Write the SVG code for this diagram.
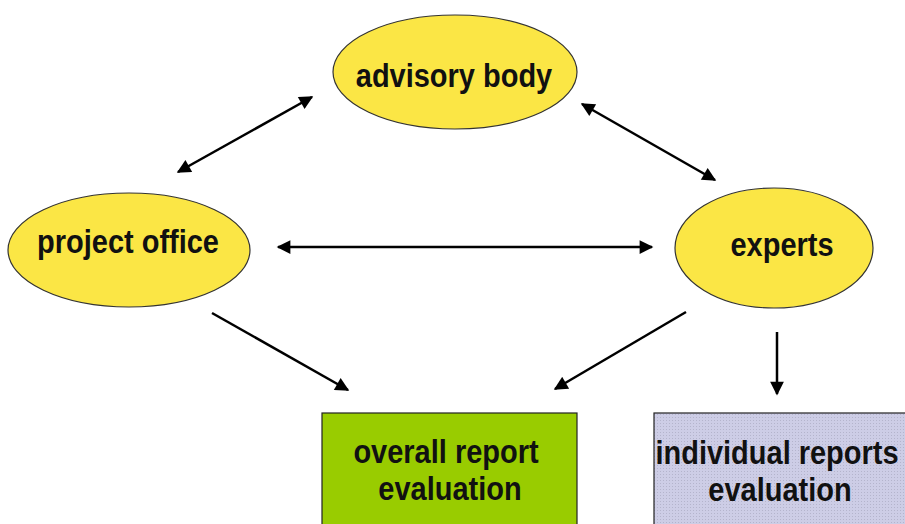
<svg xmlns="http://www.w3.org/2000/svg" width="905" height="524" viewBox="0 0 905 524">
<style>
.node ellipse{fill:#FBE645;stroke:#333;stroke-width:1.2}
.lbl{font-family:"Liberation Sans",Arial,sans-serif;font-weight:bold;font-size:29px;fill:#111;text-anchor:middle}
.conn line{stroke:#000;stroke-width:2.5}
</style>
<defs>
<marker id="ah" viewBox="0 0 10 10" refX="9" refY="5" markerWidth="6.5" markerHeight="5.5" orient="auto-start-reverse" markerUnits="strokeWidth">
<path d="M0,0 L10,5 L0,10 z" fill="#000"/>
</marker>
<pattern id="dots" width="3" height="3" patternUnits="userSpaceOnUse">
<rect width="3" height="3" fill="#CDCDE6"/>
<rect width="1" height="1" fill="#B4B4CC"/>
</pattern>
</defs>
<rect width="905" height="524" fill="#fff"/>
<g id="advisory-body" class="node">
<ellipse cx="455" cy="72" rx="122" ry="57"/>
<text class="lbl" transform="translate(454,87) scale(1,1.12)">advisory body</text>
</g>
<g id="project-office" class="node">
<ellipse cx="129" cy="250" rx="121" ry="57"/>
<text class="lbl" transform="translate(128,253) scale(1,1.12)">project office</text>
</g>
<g id="experts" class="node">
<ellipse cx="774" cy="248" rx="99" ry="60"/>
<text class="lbl" transform="translate(782,256) scale(1,1.12)">experts</text>
</g>
<g id="overall-report" class="node">
<rect x="322" y="413" width="255" height="130" fill="#99CC00" stroke="#222" stroke-width="1.2"/>
<text class="lbl" transform="translate(446,463) scale(1,1.12)">overall report</text>
<text class="lbl" transform="translate(450,500) scale(1,1.12)">evaluation</text>
</g>
<g id="individual-reports" class="node">
<rect x="654" y="413" width="270" height="130" fill="url(#dots)" stroke="#222" stroke-width="1.2"/>
<text class="lbl" transform="translate(777,464) scale(1,1.12)">individual reports</text>
<text class="lbl" transform="translate(780,501) scale(1,1.12)">evaluation</text>
</g>
<g id="connectors" class="conn">
<line x1="178" y1="172" x2="312" y2="97" marker-start="url(#ah)" marker-end="url(#ah)"/>
<line x1="582" y1="104" x2="715" y2="180" marker-start="url(#ah)" marker-end="url(#ah)"/>
<line x1="278" y1="247" x2="652" y2="247" marker-start="url(#ah)" marker-end="url(#ah)"/>
<line x1="212" y1="313" x2="348" y2="390" marker-end="url(#ah)"/>
<line x1="686" y1="312" x2="555" y2="389" marker-end="url(#ah)"/>
<line x1="777" y1="332" x2="777" y2="394" marker-end="url(#ah)"/>
</g>
</svg>
